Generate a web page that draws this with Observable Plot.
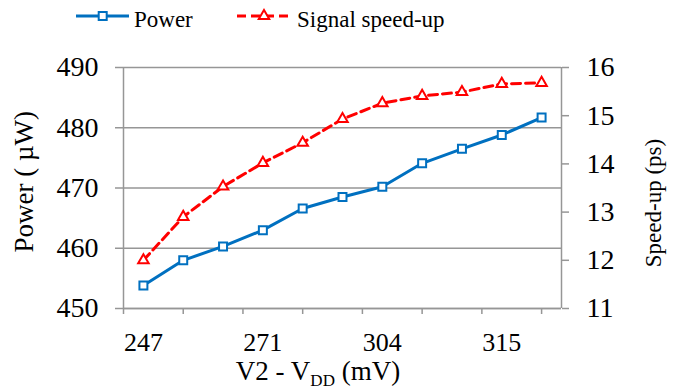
<!DOCTYPE html>
<html>
<head>
<meta charset="utf-8">
<script src="https://cdn.jsdelivr.net/npm/d3@7"></script>
<script src="https://cdn.jsdelivr.net/npm/@observablehq/plot@0.6"></script>
<style>
  body { margin: 0; background: #fff; }
  #chart svg { display: block; }
  #chart svg, #chart svg text { font-family: "Liberation Serif", serif !important; }
</style>
</head>
<body>
<div id="chart"></div>
<script>
// Measurement steps along the sweep (11 settings)
const steps = [0, 1, 2, 3, 4, 5, 6, 7, 8, 9, 10];
// Power consumption (µW) at each step
const power = [453.8, 458.0, 460.3, 463.0, 466.6, 468.5, 470.2, 474.1, 476.5, 478.8, 481.7];
// Signal speed-up (ps) at each step
const speedup = [12.0, 12.9, 13.53, 14.02, 14.44, 14.93, 15.26, 15.41, 15.49, 15.66, 15.68];

// Category-axis labels and the steps they sit under
const xLabels = ["247", "271", "304", "315"];
const xLabelSteps = [0, 3, 6, 9];
// Tick marks on the category axis
const xTickSteps = [-0.5, 1, 2.5, 4, 5.5, 7, 8.5, 10];

const powerTicks = [450, 460, 470, 480, 490];
const speedTicks = [11, 12, 13, 14, 15, 16];

// Secondary axis: speed-up 11–16 ps shares the 450–490 µW range
const toPower = s => 450 + (s - 11) * 8;
const fromPower = p => (p - 450) / 8 + 11;

const rows = steps.map(i => ({ step: i, power: power[i], speed: speedup[i] }));

const blue = "#0070C0";
const red = "#FF0000";
const gray = "#969696";

const chart = Plot.plot({
  width: 675,
  height: 392,
  marginLeft: 123,
  marginRight: 114,
  marginTop: 67,
  marginBottom: 84,
  style: { fontSize: "28px", color: "#000", background: "#fff", overflow: "visible" },
  x: { domain: [-0.5, 10.5] },
  y: { domain: [450, 490] },
  marks: [
    Plot.gridY(powerTicks, { stroke: gray, strokeOpacity: 1, strokeWidth: 1.5 }),
    Plot.ruleX([-0.5], { stroke: gray, strokeWidth: 1.5 }),
    Plot.ruleX([10.5], { stroke: gray, strokeWidth: 1.5 }),
    Plot.ruleY([450], { stroke: gray, strokeWidth: 1.5 }),
    Plot.axisY({ ticks: powerTicks, tickSize: 8, tickPadding: 17, label: null, stroke: gray, strokeWidth: 1.5, strokeOpacity: 1, fontSize: 28 }),
    Plot.axisY({ anchor: "right", ticks: speedTicks.map(toPower), tickFormat: p => String(Math.round(fromPower(p))), tickSize: 7, tickPadding: 18, label: null, stroke: gray, strokeWidth: 1.5, strokeOpacity: 1, fontSize: 28 }),
    Plot.axisX({ ticks: xTickSteps, tickFormat: () => "", tickSize: 6, label: null, stroke: gray, strokeWidth: 1.5, strokeOpacity: 1 }),
    Plot.axisX({ ticks: xLabelSteps, tickFormat: v => xLabels[xLabelSteps.indexOf(v)], tickSize: 0, tickPadding: 24, label: null, fontSize: 26 }),
    Plot.line(rows, { x: "step", y: "power", stroke: blue, strokeWidth: 3 }),
    Plot.dot(rows, { x: "step", y: "power", symbol: "square", r: 4.5, stroke: blue, fill: "white", strokeWidth: 2 }),
    Plot.line(rows, { x: "step", y: d => toPower(d.speed), stroke: red, strokeWidth: 3, strokeDasharray: "9,5" }),
    Plot.dot(rows, { x: "step", y: d => toPower(d.speed), symbol: "triangle", r: 3.9, stroke: red, fill: "white", strokeWidth: 2 })
  ]
});

document.getElementById("chart").append(chart);

const svg = d3.select(chart);

// Legend
const legend = svg.append("g").attr("font-size", 23).attr("fill", "#000").attr("text-anchor", "start");
legend.append("line").attr("x1", 76).attr("x2", 129).attr("y1", 16).attr("y2", 16)
  .attr("stroke", blue).attr("stroke-width", 3);
legend.append("path").attr("d", d3.symbol(d3.symbolSquare, 64)())
  .attr("transform", "translate(102.7,16)").attr("stroke", blue).attr("stroke-width", 2).attr("fill", "white");
legend.append("text").attr("x", 134).attr("y", 26.5).text("Power");
legend.append("line").attr("x1", 237).attr("x2", 291).attr("y1", 16).attr("y2", 16)
  .attr("stroke", red).attr("stroke-width", 3).attr("stroke-dasharray", "9,5");
legend.append("path").attr("d", d3.symbol(d3.symbolTriangle, 48)())
  .attr("transform", "translate(264,16)").attr("stroke", red).attr("stroke-width", 2).attr("fill", "white");
legend.append("text").attr("x", 297).attr("y", 26.5).text("Signal speed-up");

// Axis titles
const xTitle = svg.append("text").attr("font-size", 27)
  .attr("x", 318).attr("y", 380).attr("text-anchor", "middle").attr("fill", "#000");
xTitle.append("tspan").text("V2 - V");
xTitle.append("tspan").attr("font-size", 17).attr("dy", 6).text("DD");
xTitle.append("tspan").attr("dy", -6).text(" (mV)");

svg.append("text").attr("font-size", 27).attr("fill", "#000")
  .attr("text-anchor", "middle").attr("transform", "translate(33,181.7) rotate(-90)")
  .text("Power ( µW)");
svg.append("text").attr("font-size", 23).attr("fill", "#000")
  .attr("text-anchor", "middle").attr("transform", "translate(661,203) rotate(-90)")
  .text("Speed-up (ps)");
</script>
</body>
</html>
